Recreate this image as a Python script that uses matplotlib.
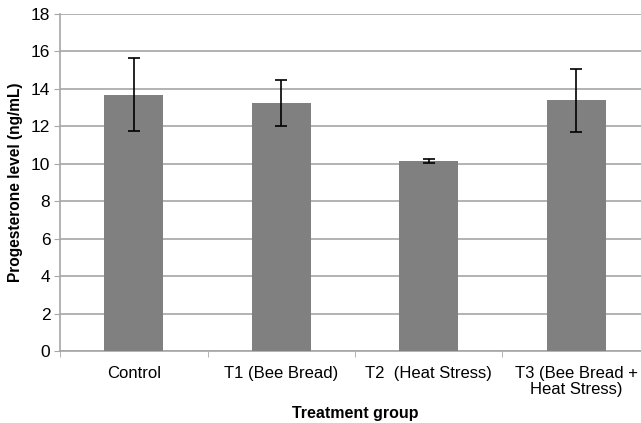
import numpy as np
import matplotlib
matplotlib.use('Agg')
from matplotlib import pyplot as plt

plt.rcParams['font.family'] = ['Liberation Sans', 'DejaVu Sans']

groups = ['Control', 'T1 (Bee Bread)', 'T2  (Heat Stress)', 'T3 (Bee Bread +\nHeat Stress)']
means = [13.7, 13.25, 10.15, 13.4]
errors = [1.95, 1.22, 0.1, 1.68]

fig = plt.figure(figsize=(6.41, 4.23), dpi=100)
ax = fig.add_axes([60/641, 1-351/423, 590/641, 337/423])

x = np.arange(len(groups))
ax.bar(x, means, width=0.4, color='#808080', zorder=3)
ax.errorbar(x, means, yerr=errors, fmt='none', ecolor='black', elinewidth=1.2,
            capsize=4, capthick=1.2, zorder=4)

ax.set_xlim(-0.5, 3.5)
ax.set_ylim(0, 18)
ax.set_yticks(np.arange(0, 19, 2))
ax.yaxis.grid(True, color='#a6a6a6', linewidth=1.2, zorder=0)

ax.set_xticks(x)
ax.set_xticklabels(groups, fontsize=12, linespacing=1.1)
ax.set_xticks(np.arange(-0.5, 4, 1), minor=True)
ax.tick_params(axis='x', which='major', length=0, pad=11)
ax.tick_params(axis='x', which='minor', length=4, color='#a6a6a6', direction='out')
ax.tick_params(axis='y', length=4, color='#a6a6a6', labelsize=12.5, pad=3)

for s in ['top', 'right']:
    ax.spines[s].set_visible(False)
for s in ['left', 'bottom']:
    ax.spines[s].set_color('#a6a6a6')
    ax.spines[s].set_linewidth(1.2)

ax.set_ylabel('Progesterone level (ng/mL)', fontsize=11.2, fontweight='bold', labelpad=6)
ax.set_xlabel('Treatment group', fontsize=11.5, fontweight='bold', labelpad=6)

fig.savefig('out.png', dpi=100)
